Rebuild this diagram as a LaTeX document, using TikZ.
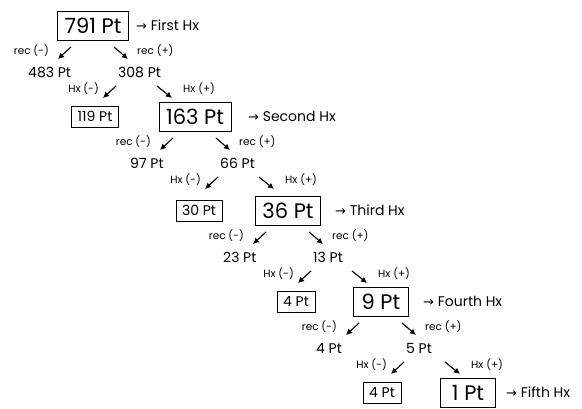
\documentclass[tikz,border=0pt]{standalone}
\usepackage{fontspec}
\setmainfont{Poppins}
\newfontfamily\arrowfont{DejaVu Sans}
\usetikzlibrary{arrows.meta}
\begin{document}
\begin{tikzpicture}[x=1pt,y=-1pt,
  bigbox/.style={draw, line width=0.8pt, text height=14.7pt, text depth=0pt,
    inner xsep=7pt, inner ysep=0pt, minimum height=29pt, minimum width=55pt,
    font=\fontsize{21}{21}\selectfont},
  smallbox/.style={draw, line width=0.7pt, text height=9.8pt, text depth=0pt,
    inner xsep=6pt, inner ysep=0pt, minimum height=21pt,
    font=\fontsize{14}{14}\selectfont},
  num/.style={text height=9.8pt, text depth=0pt, inner sep=0pt,
    font=\fontsize{14}{14}\selectfont},
  tag/.style={text height=7.4pt, text depth=0pt, inner sep=0pt,
    font=\fontsize{10.5}{10.5}\selectfont},
  stage/.style={text height=9.8pt, text depth=0pt, inner sep=0pt, anchor=west,
    font=\fontsize{14}{14}\selectfont},
  fwd/.style={-{Latex[length=6pt,width=6pt]}, line width=1.1pt},
]
\useasboundingbox (0,0) rectangle (582,408);

% main boxes, one per round, each with its round name
\foreach \i/\x/\y/\v/\gx/\name in {1/93/26/791/136/First, 2/195/117/163/248/Second,
    3/288/211/36/335/Third, 4/381/302/9/423/Fourth, 5/468/393/1/506/Fifth}{
  \node[bigbox] (big\i) at (\x,\y) {\v~Pt};
  \node[stage] (stage\i) at (\gx,\y) {{\arrowfont\fontsize{13}{13}\selectfont →}~\name~Hx};
}

% the split below each main box
\foreach \i/\x/\y/\ny/\sx/\l/\r/\s in {1/93/26/117/95/483/308/119,
    2/195/117/211/199/97/66/30, 3/288/211/302/296/23/13/4, 4/381/302/393/382/4/5/4}{
  \node[smallbox] (small\i) at (\sx,\ny) {\s~Pt};
  \begin{scope}[shift={(\x,\y)}]
    \node[tag, anchor=east] (recm\i) at (-44,25) {rec (-)};
    \node[tag, anchor=west] (recp\i) at (44,25) {rec (+)};
    \coordinate (rma\i) at (-22,21);
    \coordinate (rmb\i) at (-35,33);
    \coordinate (rpa\i) at (21,21);
    \coordinate (rpb\i) at (35,33);
    \node[num, anchor=west] (lnum\i) at (-65,47) {\l~Pt};
    \node[num, anchor=west] (rnum\i) at (25,47) {\r~Pt};
    \node[tag, anchor=east] (hxm\i) at (6,63) {Hx (-)};
    \node[tag, anchor=west] (hxp\i) at (90,63) {Hx (+)};
    \coordinate (hma\i) at (23,60);
    \coordinate (hmb\i) at (10,72);
    \coordinate (hpa\i) at (64,60);
    \coordinate (hpb\i) at (79,72);
  \end{scope}
  \draw[fwd] (rma\i) -- (rmb\i);
  \draw[fwd] (rpa\i) -- (rpb\i);
  \draw[fwd] (hma\i) -- (hmb\i);
  \draw[fwd] (hpa\i) -- (hpb\i);
}
\end{tikzpicture}
\end{document}
